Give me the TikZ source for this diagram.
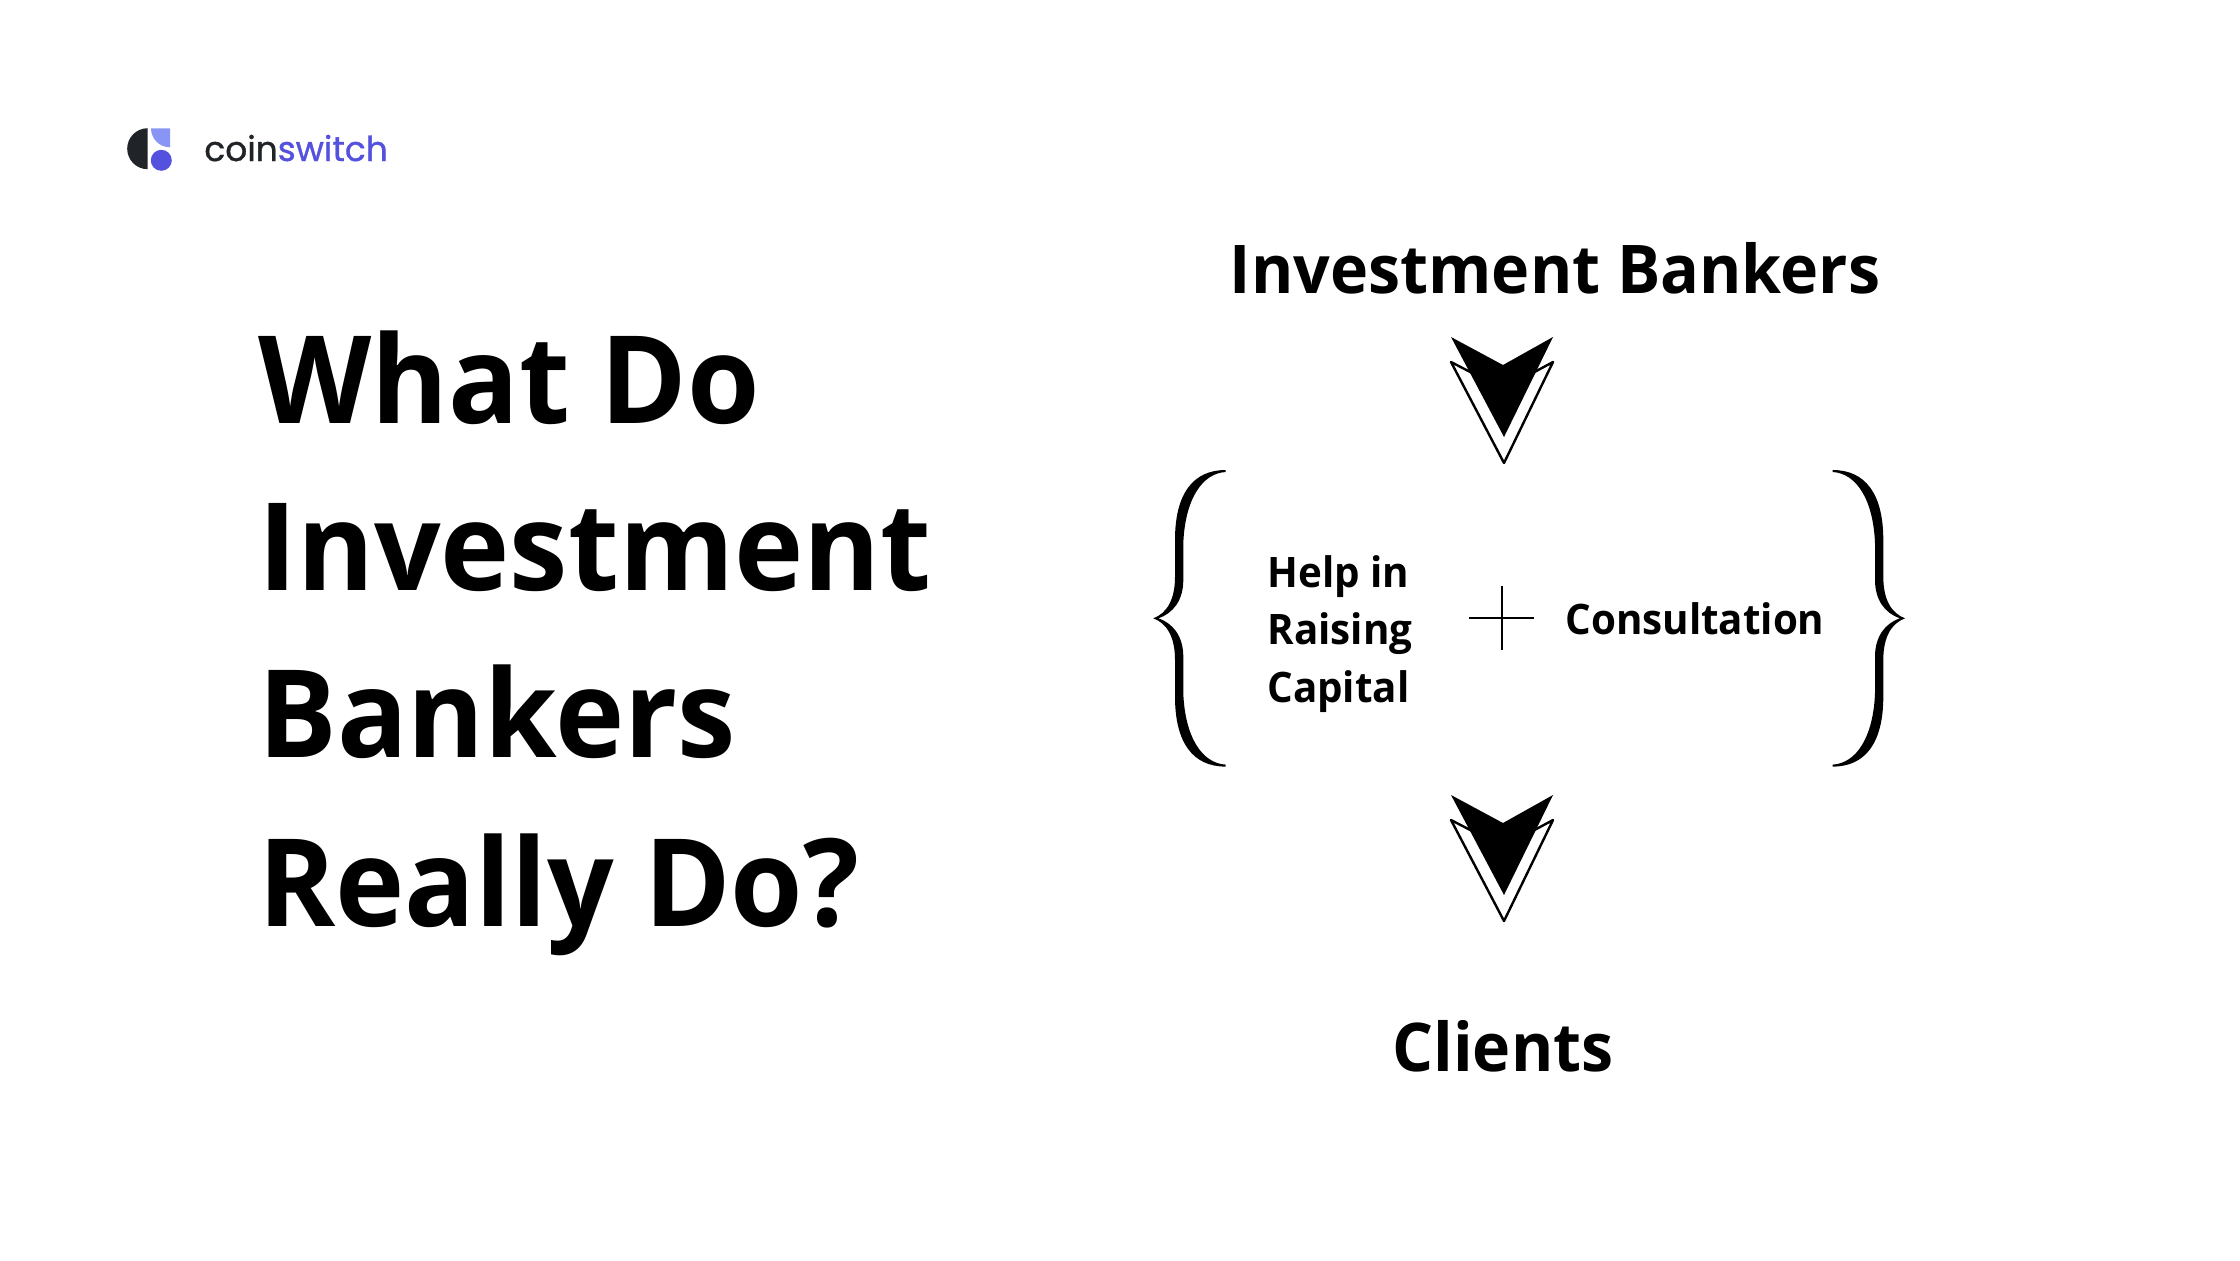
\documentclass[tikz,border=0pt]{standalone}
\usepackage{fontspec}
\setmainfont[FakeStretch=0.96]{Open Sans}
\newfontfamily\logofont[FakeBold=1]{Poppins}
\usepackage{tikz}
\definecolor{logodark}{HTML}{202328}
\definecolor{logoblue}{HTML}{5551DF}
\definecolor{logolight}{HTML}{8895F5}
\tikzset{
  headline/.style={anchor=base west,inner sep=0pt,font=\fontsize{61}{61}\selectfont\bfseries},
  sideline/.style={anchor=base,inner sep=0pt,font=\fontsize{33.6}{34}\selectfont\bfseries},
  smallline/.style={anchor=base west,inner sep=0pt,font=\fontsize{21}{21}\selectfont\bfseries},
  curly/.pic={
    \fill (0,0) .. controls (13.4,-5) and (21.7,-18.3) .. (21.7,-41.6) -- (21.7,-78.3)
      .. controls (21.7,-125) and (40,-148.3) .. (72.4,-148.3) -- (72.4,-146.3)
      .. controls (48.4,-145) and (31.7,-118.3) .. (30,-75) -- (30,-38.3)
      .. controls (30,-18.3) and (20,-5) .. (5,0)
      .. controls (20,5) and (30,18.3) .. (30,38.3) -- (30,75)
      .. controls (31.7,118.3) and (48.4,145) .. (72.4,146.3) -- (72.4,148.3)
      .. controls (40,148.3) and (21.7,125) .. (21.7,78.3) -- (21.7,41.6)
      .. controls (21.7,18.3) and (13.4,5) .. (0,0) -- cycle;
  },
  chevron/.pic={
    \draw[line width=1.2pt,line join=round] (-52,-2) -- (0,25) -- (50,-2) -- (1,99) -- cycle;
    \fill (-52,-27) -- (0,1) -- (50,-27) -- (1,73) -- cycle;
  }
}
\begin{document}
\begin{tikzpicture}[x=0.5pt,y=0.5pt,yscale=-1,xscale=1]
  \useasboundingbox (0,0) rectangle (2240,1260);
  % logo
  \fill[logodark] (147.7,128.2) arc (270:90:20.5) -- cycle;
  \fill[logolight] (151,128.3) -- (170,128.3) -- (170,147.3) arc (90:180:19) -- cycle;
  \fill[logoblue] (161.3,160.3) circle (10.5);
  \node (brand) at (204,161) [anchor=base west,inner sep=0pt,font=\logofont\fontsize{17.2}{17.2}\selectfont] {\textcolor{logodark}{coin}\textcolor{logoblue}{switch}};
  % title
  \node[headline] (whatdo) at (258,423) {What Do};
  \node[headline] (invest) at (258,590) {Investment};
  \node[headline] (bankers) at (258,757) {Bankers};
  \node[headline] (really) at (258,926) {Really Do?};
  % right side
  \node[sideline] (top) at (1555,293) {Investment Bankers};
  \node[sideline] (bottom) at (1503,1071) {Clients};
  \node[smallline] (help) at (1267,587) {Help in};
  \node[smallline] (raising) at (1267,644) {Raising};
  \node[smallline] (capital) at (1267,702) {Capital};
  \node[smallline] (consult) at (1565,634) {Consultation};
  \draw[line width=1.2pt] (1469,618) -- (1534,618) (1502,586) -- (1502,650);
  \pic at (1153.3,618.3) {curly};
  \pic[xscale=-1] at (1905,618.3) {curly};
  \pic[yscale=-1] at (1503,364) {chevron};
  \pic[yscale=-1] at (1503,822) {chevron};
\end{tikzpicture}
\end{document}
